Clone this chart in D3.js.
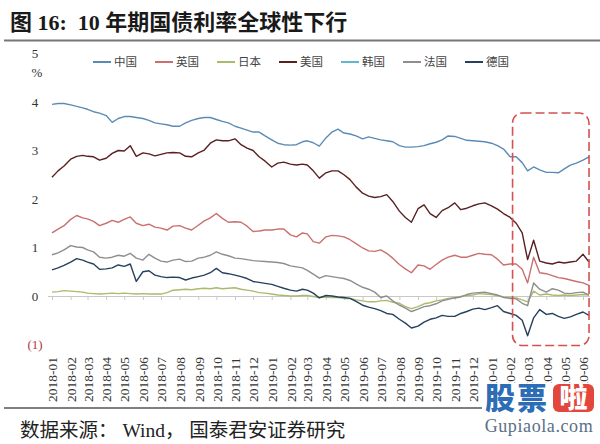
<!DOCTYPE html>
<html><head><meta charset="utf-8">
<script src="https://cdn.jsdelivr.net/npm/d3@7/dist/d3.min.js"></script>
<style>body{margin:0;background:#fff}svg{display:block}text{white-space:pre}</style></head>
<body><svg id="c" width="600" height="444"></svg>
<script>
const dates=["2018-01-01","2018-01-11","2018-01-21","2018-02-01","2018-02-11","2018-02-21","2018-03-01","2018-03-11","2018-03-21","2018-04-01","2018-04-11","2018-04-21","2018-05-01","2018-05-11","2018-05-21","2018-06-01","2018-06-11","2018-06-21","2018-07-01","2018-07-11","2018-07-21","2018-08-01","2018-08-11","2018-08-21","2018-09-01","2018-09-11","2018-09-21","2018-10-01","2018-10-11","2018-10-21","2018-11-01","2018-11-11","2018-11-21","2018-12-01","2018-12-11","2018-12-21","2019-01-01","2019-01-11","2019-01-21","2019-02-01","2019-02-11","2019-02-21","2019-03-01","2019-03-11","2019-03-21","2019-04-01","2019-04-11","2019-04-21","2019-05-01","2019-05-11","2019-05-21","2019-06-01","2019-06-11","2019-06-21","2019-07-01","2019-07-11","2019-07-21","2019-08-01","2019-08-11","2019-08-21","2019-09-01","2019-09-11","2019-09-21","2019-10-01","2019-10-11","2019-10-21","2019-11-01","2019-11-11","2019-11-21","2019-12-01","2019-12-11","2019-12-21","2020-01-01","2020-01-11","2020-01-21","2020-02-01","2020-02-11","2020-02-21","2020-03-01","2020-03-11","2020-03-21","2020-04-01","2020-04-11","2020-04-21","2020-05-01","2020-05-11","2020-05-21","2020-06-01","2020-06-11"];
const seriesNames=["中国","英国","日本","美国","韩国","法国","德国"];
const seriesColors=["#5b8bb5","#c9706e","#a9bb6c","#5a1f1f","#62b7cf","#8e8e8e","#26405e"];
const china=[3.95,3.97,3.97,3.94,3.91,3.88,3.85,3.80,3.77,3.72,3.58,3.66,3.70,3.70,3.68,3.66,3.62,3.57,3.55,3.53,3.50,3.50,3.57,3.62,3.66,3.68,3.68,3.64,3.60,3.57,3.50,3.46,3.42,3.38,3.38,3.30,3.22,3.15,3.12,3.11,3.12,3.18,3.20,3.16,3.09,3.26,3.38,3.44,3.36,3.34,3.30,3.24,3.28,3.25,3.22,3.20,3.18,3.10,3.07,3.07,3.08,3.10,3.14,3.17,3.22,3.30,3.29,3.25,3.21,3.20,3.19,3.18,3.15,3.10,3.03,2.87,2.87,2.75,2.58,2.66,2.60,2.55,2.55,2.54,2.62,2.70,2.74,2.80,2.87];
const uk=[1.30,1.38,1.45,1.58,1.66,1.61,1.59,1.54,1.45,1.50,1.56,1.52,1.58,1.63,1.50,1.45,1.48,1.42,1.40,1.36,1.44,1.45,1.40,1.36,1.46,1.55,1.61,1.70,1.60,1.52,1.53,1.52,1.44,1.33,1.34,1.36,1.36,1.38,1.38,1.26,1.22,1.30,1.28,1.12,1.09,1.22,1.25,1.24,1.22,1.16,1.08,0.99,0.93,0.92,0.95,0.88,0.78,0.65,0.56,0.48,0.64,0.62,0.55,0.65,0.74,0.80,0.84,0.80,0.80,0.84,0.88,0.86,0.85,0.76,0.64,0.66,0.66,0.55,0.27,0.80,0.48,0.46,0.42,0.38,0.36,0.33,0.30,0.27,0.22];
const japan=[0.08,0.09,0.11,0.10,0.09,0.08,0.06,0.05,0.04,0.05,0.06,0.05,0.06,0.05,0.04,0.05,0.04,0.04,0.04,0.07,0.12,0.13,0.14,0.13,0.15,0.16,0.15,0.17,0.15,0.16,0.17,0.14,0.12,0.10,0.07,0.06,0.04,0.02,0.01,0.00,0.00,0.01,0.01,-0.01,-0.03,-0.02,-0.03,-0.03,-0.05,-0.05,-0.08,-0.10,-0.12,-0.12,-0.10,-0.09,-0.13,-0.15,-0.22,-0.26,-0.22,-0.16,-0.14,-0.10,-0.08,-0.05,-0.03,-0.01,0.01,0.02,0.05,0.04,0.03,0.01,-0.02,-0.03,-0.04,-0.08,-0.12,0.10,0.02,0.04,0.02,0.01,0.02,0.01,0.02,0.03,0.02];
const us=[2.45,2.58,2.68,2.82,2.88,2.90,2.88,2.87,2.80,2.84,2.94,3.00,2.99,3.10,2.88,2.95,2.93,2.89,2.92,2.95,2.96,2.95,2.88,2.87,2.95,3.01,3.15,3.22,3.20,3.20,3.24,3.12,3.05,3.00,2.87,2.78,2.66,2.74,2.76,2.72,2.70,2.72,2.70,2.58,2.43,2.54,2.58,2.58,2.50,2.40,2.25,2.12,2.06,2.03,2.05,2.09,1.95,1.75,1.62,1.52,1.80,1.88,1.70,1.62,1.76,1.82,1.92,1.78,1.81,1.86,1.90,1.92,1.86,1.79,1.70,1.62,1.50,1.30,0.75,1.15,0.72,0.68,0.66,0.70,0.68,0.70,0.72,0.86,0.70];
const korea=[];
const france=[0.85,0.89,0.95,1.04,1.01,1.00,0.95,0.91,0.80,0.78,0.80,0.84,0.82,0.88,0.78,0.74,0.86,0.78,0.72,0.70,0.74,0.76,0.71,0.72,0.78,0.80,0.84,0.91,0.86,0.83,0.78,0.77,0.75,0.73,0.72,0.71,0.70,0.69,0.67,0.62,0.60,0.58,0.53,0.45,0.37,0.42,0.40,0.38,0.36,0.32,0.25,0.18,0.14,0.08,-0.03,0.00,-0.10,-0.19,-0.25,-0.32,-0.27,-0.22,-0.20,-0.16,-0.10,-0.07,-0.04,-0.02,0.03,0.06,0.07,0.08,0.05,0.02,-0.03,-0.05,-0.06,-0.15,-0.20,0.27,0.14,0.08,0.15,0.12,0.06,0.05,0.07,0.08,0.02];
const germany=[0.54,0.58,0.63,0.70,0.77,0.74,0.70,0.66,0.55,0.56,0.58,0.64,0.61,0.66,0.30,0.50,0.52,0.43,0.40,0.38,0.39,0.38,0.33,0.37,0.40,0.43,0.48,0.57,0.48,0.46,0.43,0.40,0.36,0.30,0.28,0.26,0.24,0.20,0.16,0.12,0.10,0.14,0.12,0.06,-0.04,0.01,0.00,-0.02,-0.03,-0.05,-0.11,-0.19,-0.23,-0.26,-0.30,-0.36,-0.38,-0.48,-0.56,-0.66,-0.62,-0.54,-0.48,-0.45,-0.40,-0.42,-0.42,-0.36,-0.32,-0.27,-0.25,-0.28,-0.24,-0.20,-0.32,-0.36,-0.40,-0.50,-0.82,-0.45,-0.28,-0.38,-0.36,-0.42,-0.46,-0.43,-0.38,-0.33,-0.40];
const yTicks=[-1,0,1,2,3,4,5];
const yTickLabels=["(1)","0","1","2","3","4","5"];
const highlightStart="2020-02-05", highlightEnd="2020-06-11";

const seriesData=[china,uk,japan,us,korea,france,germany];
const parse=d3.timeParse("%Y-%m-%d");
const dts=dates.map(parse);
const svg=d3.select("#c");
const serif="'Liberation Serif','Times New Roman','Noto Sans CJK SC',serif";
const cjk="'Liberation Serif','Noto Sans CJK SC',sans-serif";

const x=d3.scaleTime().domain([parse("2018-01-01"),parse("2020-06-01")]).range([52,583]);
const y=d3.scaleLinear().domain([-1,5]).range([344.5,53.5]);

// title
svg.append("text").attr("x",10).attr("y",30).attr("font-family",cjk).attr("font-weight","bold")
  .attr("font-size",22).attr("fill","#1a1a1a").text("图 16:  10 年期国债利率全球性下行");
svg.append("line").attr("x1",4).attr("x2",600).attr("y1",40.5).attr("y2",40.5).attr("stroke","#777").attr("stroke-width",2);

// y labels
yTicks.forEach((t,i)=>{
  svg.append("text").attr("x",35).attr("y",y(t)).attr("dy","0.35em").attr("text-anchor","middle")
   .attr("font-family",serif).attr("font-size",13).attr("fill",t<0?"#b03a3a":"#333").text(yTickLabels[i]);
});
svg.append("text").attr("x",37).attr("y",72).attr("dy","0.35em").attr("text-anchor","middle")
  .attr("font-family",serif).attr("font-size",13).attr("fill","#333").text("%");

// zero axis with month ticks
const months=d3.timeMonth.range(parse("2018-01-01"),parse("2020-06-02"));
const axZero=d3.axisBottom(x).tickValues(months).tickSize(4).tickFormat("");
const gz=svg.append("g").attr("transform",`translate(0,${y(0)})`).call(axZero);
gz.select(".domain").attr("stroke","#c8c8c8").attr("d",`M48,0.5H590`);
gz.selectAll(".tick line").attr("stroke","#c8c8c8");

// month labels
const axLab=d3.axisBottom(x).tickValues(months).tickSize(0).tickFormat(d3.timeFormat("%Y-%m"));
const gl=svg.append("g").attr("transform","translate(0,355)").call(axLab);
gl.select(".domain").remove();
gl.selectAll(".tick text").attr("transform","rotate(-90)").attr("text-anchor","start")
  .attr("x",-47).attr("y",0).attr("dx",0).attr("dy","0.35em")
  .attr("font-family",serif).attr("font-size",13.5).attr("fill","#333");

// lines
const line=d3.line().x((d,i)=>x(dts[i])).y(d=>y(d));
seriesData.forEach((s,k)=>{
  if(!s.length) return;
  svg.append("path").datum(s).attr("d",line).attr("fill","none")
    .attr("stroke",seriesColors[k]).attr("stroke-width",1.4).attr("stroke-linejoin","round");
});

// legend
seriesNames.forEach((n,k)=>{
  const lx=93+k*62;
  svg.append("line").attr("x1",lx).attr("x2",lx+18).attr("y1",62).attr("y2",62)
    .attr("stroke",seriesColors[k]).attr("stroke-width",2);
  svg.append("text").attr("x",lx+21).attr("y",62).attr("dy","0.35em")
    .attr("font-family","'Noto Sans CJK SC',sans-serif").attr("font-size",11.5).attr("fill","#444").text(n);
});

// highlight box
const hx0=x(parse(highlightStart)), hx1=x(parse(highlightEnd));
svg.append("rect").attr("x",hx0).attr("y",113).attr("width",hx1-hx0).attr("height",y(-1)-113+1)
  .attr("rx",10).attr("fill","none").attr("stroke","#d65050").attr("stroke-width",1.6).attr("stroke-dasharray","9,4");

// source
svg.append("line").attr("x1",4).attr("x2",600).attr("y1",408).attr("y2",408).attr("stroke","#555").attr("stroke-width",1.5);
svg.append("text").attr("x",20).attr("y",437).attr("font-family",cjk).attr("font-size",19.5).attr("fill","#222")
  .text("数据来源： Wind， 国泰君安证券研究");

// watermark
const wm=svg.append("g");
wm.append("rect").attr("x",482).attr("y",383).attr("width",118).attr("height",61).attr("fill","#fff");
wm.append("text").attr("x",485).attr("y",409).attr("font-family","'Noto Sans CJK SC',sans-serif").attr("font-weight",900)
  .attr("font-size",30).attr("fill","#2d6db5").attr("letter-spacing",2).text("股票");
wm.append("rect").attr("x",553).attr("y",384).attr("width",41).attr("height",28).attr("rx",6).attr("fill","#e2463d");
wm.append("text").attr("x",573.5).attr("y",408).attr("text-anchor","middle").attr("font-family","'Noto Sans CJK SC',sans-serif")
  .attr("font-weight",900).attr("font-size",28).attr("fill","#fff").text("啦");
wm.append("text").attr("x",539).attr("y",432).attr("text-anchor","middle").attr("font-family",serif)
  .attr("font-size",18).attr("fill","#5a6f86").attr("letter-spacing",0.6).text("Gupiaola.com");
</script></body></html>
